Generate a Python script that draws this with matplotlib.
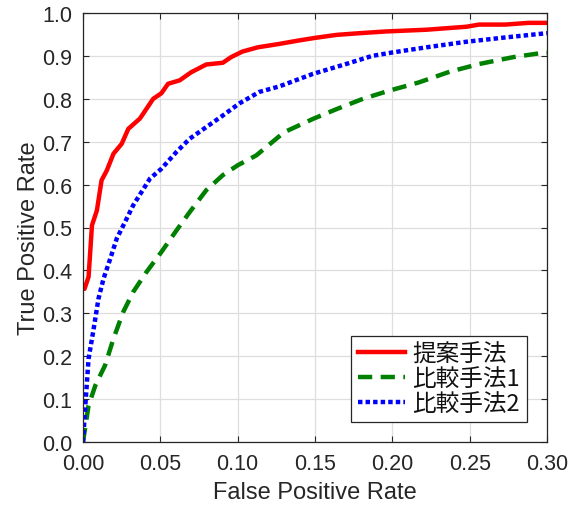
import matplotlib
matplotlib.use("Agg")
import matplotlib.pyplot as plt
import numpy as np

# Data
prop_fpr = [0.0, 0.001, 0.0036, 0.0058, 0.009, 0.012, 0.0154, 0.0197, 0.025, 0.0293, 0.0368,
            0.0454, 0.0507, 0.055, 0.0625, 0.070, 0.0797, 0.0904, 0.0957, 0.103, 0.113,
            0.127, 0.138, 0.150, 0.164, 0.179, 0.196, 0.222, 0.248, 0.256, 0.273, 0.288, 0.300]
prop_tpr = [0.357, 0.357, 0.385, 0.505, 0.54, 0.61, 0.633, 0.672, 0.695, 0.73, 0.754,
            0.80, 0.813, 0.835, 0.843, 0.862, 0.88, 0.884, 0.897, 0.91, 0.92,
            0.928, 0.935, 0.942, 0.949, 0.953, 0.957, 0.961, 0.968, 0.973, 0.973, 0.977, 0.977]

cmp1_fpr = [0.0, 0.0036, 0.008, 0.0143, 0.0197, 0.026, 0.0325, 0.041, 0.0507, 0.0604, 0.069,
            0.0797, 0.0904, 0.100, 0.112, 0.130, 0.1486, 0.164, 0.181, 0.198, 0.217,
            0.237, 0.256, 0.278, 0.295, 0.300]
cmp1_tpr = [0.0, 0.085, 0.132, 0.179, 0.241, 0.303, 0.35, 0.396, 0.443, 0.493, 0.536,
            0.587, 0.622, 0.645, 0.668, 0.722, 0.753, 0.776, 0.800, 0.819, 0.838,
            0.863, 0.881, 0.897, 0.906, 0.907]

cmp2_fpr = [0.0, 0.0015, 0.0036, 0.0069, 0.010, 0.0133, 0.0176, 0.0218, 0.0272, 0.0325, 0.0379,
            0.0433, 0.0507, 0.0604, 0.069, 0.0797, 0.0904, 0.101, 0.114, 0.127, 0.1486,
            0.170, 0.187, 0.200, 0.222, 0.248, 0.273, 0.300]
cmp2_tpr = [0.0, 0.085, 0.194, 0.264, 0.334, 0.381, 0.427, 0.474, 0.513, 0.552, 0.583,
            0.614, 0.637, 0.676, 0.707, 0.734, 0.761, 0.789, 0.816, 0.829, 0.858,
            0.881, 0.900, 0.908, 0.920, 0.933, 0.943, 0.953]

labels = ["提案手法", "比較手法1", "比較手法2"]
xticks = [0.00, 0.05, 0.10, 0.15, 0.20, 0.25, 0.30]
yticks = [0.0, 0.1, 0.2, 0.3, 0.4, 0.5, 0.6, 0.7, 0.8, 0.9, 1.0]

plt.rcParams['font.family'] = ['Liberation Sans', 'Noto Sans CJK JP', 'DejaVu Sans']
dark = '#262626'

fig = plt.figure(figsize=(5.76, 5.06), dpi=100)
ax = fig.add_axes([83/576, 1-443/506, (547-83)/576, (443-14)/506])

ax.plot(prop_fpr, prop_tpr, color=(1, 0, 0), lw=3.2, solid_joinstyle='round', label=labels[0])
ax.plot(cmp1_fpr, cmp1_tpr, color=(0, 0.5, 0), lw=3.2, dashes=(3.2, 1.9), label=labels[1])
ax.plot(cmp2_fpr, cmp2_tpr, color=(0, 0, 1), lw=3.2, dashes=(1.0, 0.7), label=labels[2])

ax.set_xlim(0, 0.30)
ax.set_ylim(0, 1.0)
ax.set_xticks(xticks)
ax.set_yticks(yticks)
ax.set_xticklabels([f"{v:.2f}" for v in xticks])
ax.set_yticklabels([f"{v:.1f}" for v in yticks])
ax.tick_params(direction='in', length=4, width=0.8, colors=dark, labelsize=15.5,
               top=True, right=True)
ax.tick_params(axis='x', pad=8)
ax.tick_params(axis='y', pad=8)
for s in ax.spines.values():
    s.set_color(dark)
    s.set_linewidth(0.9)
ax.grid(True, color='#dedede', lw=0.9)
ax.set_axisbelow(True)

ax.set_xlabel("False Positive Rate", fontsize=17, color=dark, labelpad=5)
ax.set_ylabel("True Positive Rate", fontsize=17, color=dark)
ax.yaxis.set_label_coords(-0.093, 0.477)

leg = ax.legend(loc='lower right', bbox_to_anchor=(1 - 20/464, 20/429),
                prop={'family': ['Noto Sans CJK JP'], 'size': 17},
                frameon=True, fancybox=False, handlelength=2.0, handletextpad=0.3,
                borderpad=0.3, labelspacing=0.07, borderaxespad=0, framealpha=1)
leg.get_frame().set_edgecolor(dark)
leg.get_frame().set_linewidth(0.9)
for t in leg.get_texts():
    t.set_color('#111111')

fig.savefig("out.png", dpi=100)
